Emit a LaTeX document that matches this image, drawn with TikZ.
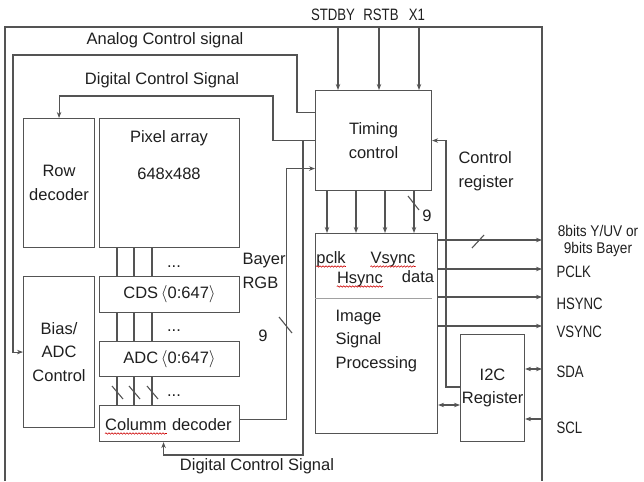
\documentclass[tikz,border=0pt]{standalone}
\usepackage{fontspec}
\setmainfont{Liberation Sans}
\newfontfamily\capsfont[FakeStretch=0.8]{Liberation Sans}
\newfontfamily\outfont[FakeStretch=0.88]{Liberation Sans}
\usetikzlibrary{positioning,arrows.meta,decorations.pathmorphing}
\definecolor{ln}{gray}{0.33}
\definecolor{tx}{gray}{0.12}
\tikzset{
  blk/.style={draw=ln, line width=1.1pt, inner sep=0pt, align=center, anchor=north west},
  wire/.style={draw=ln, line width=1.1pt},
  sep/.style={draw=ln!55, line width=0.9pt},
  caps/.style={font=\fontsize{16.5}{23.5}\capsfont},
  spell/.style={draw=red!80!black, line width=0.6pt, decorate,
    decoration={snake, amplitude=0.7pt, segment length=3pt}},
}
\begin{document}
\begin{tikzpicture}[x=1pt, y=-1pt, >={Stealth[length=6pt,width=4.5pt]},
    font=\fontsize{16.5}{23.5}\selectfont, text=tx]
  \useasboundingbox (0,0) rectangle (644,481);

  % Outer box
  \draw[wire] (5,481) -- (5,27) -- (542,27) -- (542,481);
  \coordinate (oR) at (542,0);

  % Blocks
  \node[blk, minimum width=71pt, minimum height=129pt] (row) at (23,118) {Row\\decoder};
  \node[blk, minimum width=140pt, minimum height=129pt] (pix) at (99,118) {};
  \node[align=center] (pixt) at (169,155) {Pixel array\\[13.5pt]648x488};
  \node[blk, minimum width=71pt, minimum height=151pt] (bias) at (23,276) {Bias/\\ADC\\Control};
  \node[blk, minimum width=140pt, minimum height=36pt] (cds) at (99,276) {CDS\,$\langle$0:647$\rangle$};
  \node[blk, minimum width=140pt, minimum height=35pt] (adc) at (99,341) {ADC\,$\langle$0:647$\rangle$};
  \node[blk, minimum width=140pt, minimum height=36pt] (col) at (99,405) {};
  \node[inner sep=0pt, anchor=base west] (colw) at (105,430) {Columm};
  \node[inner sep=0pt, anchor=base west] (colt) at ([xshift=5pt]colw.base east) {decoder};
  \node[blk, minimum width=116pt, minimum height=100pt] (tim) at (315,90) {Timing\\control};
  \node[blk, minimum width=122pt, minimum height=200pt] (isp) at (315,233) {};
  \node[blk, minimum width=64pt, minimum height=107pt] (i2c) at (460,334) {I2C\\Register};

  % Inside ISP
  \node[inner sep=0pt, anchor=base] (pclk) at (331,263) {pclk};
  \node[inner sep=0pt, anchor=base] (vsync) at (393,263) {Vsync};
  \node[inner sep=0pt, anchor=base] (hsync) at (360,283) {Hsync};
  \node[inner sep=0pt, anchor=base] (data) at (418,282) {data};
  \draw[sep] (isp.west |- 0,298) -- (432,298);
  \node[anchor=west, align=left] (ispt) at (332,341) {Image\\Signal\\Processing};

  % Spell marks
  \foreach \w in {colw,pclk,vsync,hsync}
    \draw[spell] ([yshift=-3.5pt]\w.base west) -- ([yshift=-3.5pt]\w.base east);

  % Inputs
  \node[caps] (stdby) at (333,15) {STDBY};
  \node[caps] (rstb) at (381,15) {RSTB};
  \node[caps] (xone) at (417,15) {X1};
  \foreach \x/\n in {338/in1,379/in2,419/in3} {
    \coordinate (\n) at (\x,27);
    \draw[wire,->] (\n) -- (\n |- tim.north);
  }

  % Timing to ISP
  \foreach \x in {327,356,385,414}
    \draw[wire,->] (tim.south -| \x,0) -- (isp.north -| \x,0);
  \draw[wire] (408,196) -- (419,210);
  \node (nine1) at (427,216) {9};

  % Analog control
  \draw[wire,->] ([yshift=28pt]tim.west) -- ++(-18,0) |- (13,55) |- (bias.west);
  \node (acs) at (165,40) {Analog Control signal};

  % Digital control
  \draw[wire,->] (tim.west) -- ++(-42,0) |- (row.north |- 0,96) -- (row.north);
  \node (dcs1) at (162,80) {Digital Control Signal};
  \coordinate (dbr) at ([xshift=-12pt]tim.west);
  \coordinate (colin) at ([xshift=-6pt]col.south);
  \draw[wire,->] (dbr) |- (colin |- 0,455) -- (colin);
  \node (dcs2) at (257,466) {Digital Control Signal};

  % Column buses
  \foreach \x in {117,134,152} {
    \draw[wire] (pix.south -| \x,0) -- (cds.north -| \x,0);
    \draw[wire] (cds.south -| \x,0) -- (adc.north -| \x,0);
    \draw[wire] (adc.south -| \x,0) -- (col.north -| \x,0);
    \draw[wire] (\x-5,386) -- (\x+6,399);
  }
  \node[anchor=base] (dots1) at (174,267) {...};
  \node[anchor=base] (dots2) at (174,331) {...};
  \node[anchor=base] (dots3) at (174,396) {...};

  % Column decoder output
  \draw[wire,->] ([yshift=4pt]col.east) -- ++(46,0) |- ([yshift=-28pt]tim.west);
  \draw[wire] (279,317) -- (292,333);
  \node (nine2) at (263,336) {9};
  \node[anchor=west, align=left] (bayer) at (239,271) {Bayer\\RGB};

  % Outputs
  \foreach \y in {240,269,297,326}
    \draw[wire,->] (isp.east |- 0,\y) -- (oR |- 0,\y);
  \draw[wire] (472,248) -- (484,235);
  \node[align=center, font=\fontsize{15.5}{17}\outfont] (bus) at (598,241) {8bits Y/UV or\\9bits Bayer};
  \node[caps, anchor=west] (pclko) at (553,272) {PCLK};
  \node[caps, anchor=west] (hsynco) at (553,304) {HSYNC};
  \node[caps, anchor=west] (vsynco) at (553,332) {VSYNC};
  \node[caps, anchor=west] (sda) at (553,372) {SDA};
  \node[caps, anchor=west] (scl) at (553,428) {SCL};

  % I2C
  \draw[wire,<->] (isp.east |- 0,405) -- (i2c.west |- 0,405);
  \draw[wire,<->] (i2c.east |- 0,369) -- (oR |- 0,369);
  \draw[wire,->] (oR |- 0,419) -- (i2c.east |- 0,419);
  \draw[wire,->] (i2c.west |- 0,387) -- (446,387) |- (tim.east);
  \node[anchor=west, align=left] (creg) at (455,171) {Control\\register};
\end{tikzpicture}
\end{document}
